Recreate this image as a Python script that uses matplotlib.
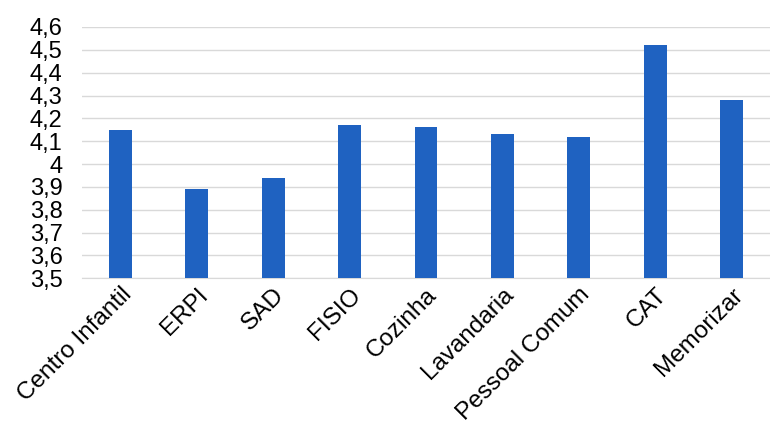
import matplotlib
matplotlib.use("Agg")
import matplotlib.pyplot as plt

categories = ["Centro Infantil", "ERPI", "SAD", "FISIO", "Cozinha",
              "Lavandaria", "Pessoal Comum", "CAT", "Memorizar"]
scores = [4.15, 3.89, 3.94, 4.17, 4.16, 4.13, 4.12, 4.52, 4.28]
yticks = [3.5, 3.6, 3.7, 3.8, 3.9, 4.0, 4.1, 4.2, 4.3, 4.4, 4.5, 4.6]
ytick_labels = ["3,5", "3,6", "3,7", "3,8", "3,9", "4", "4,1", "4,2",
                "4,3", "4,4", "4,5", "4,6"]

plt.rcParams["font.family"] = ["Liberation Sans", "DejaVu Sans"]

fig = plt.figure(figsize=(7.7, 4.32), dpi=100)
ax = fig.add_axes([0.1065, 0.356, 0.8935, 0.5815])

x = range(len(categories))
ax.bar(x, [s - 3.5 for s in scores], bottom=3.5, width=0.3,
       color="#1f62c1", zorder=3)

ax.set_xlim(-0.5, len(categories) - 0.5)
ax.set_ylim(3.5, 4.6)
ax.set_yticks(yticks)
ax.set_yticklabels(ytick_labels, fontsize=17)
ax.set_xticks(list(x))
ax.set_xticklabels(categories, fontsize=17.5, rotation=45, ha="right",
                   va="top", rotation_mode="anchor")
ax.tick_params(axis="y", length=0, pad=14)
ax.tick_params(axis="x", length=0, pad=4)

ax.grid(axis="y", color="#d9d9d9", linewidth=1.0, zorder=0)
for side in ["top", "right", "left"]:
    ax.spines[side].set_visible(False)
ax.spines["bottom"].set_color("#d9d9d9")

fig.savefig("out.png", dpi=100)
